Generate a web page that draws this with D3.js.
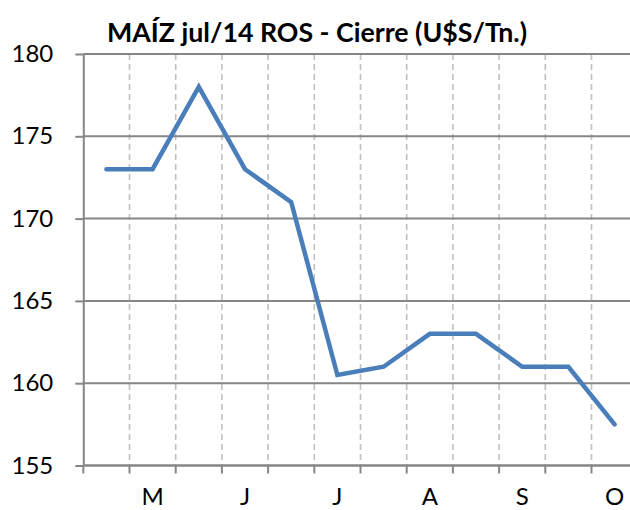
<!DOCTYPE html>
<html>
<head>
<meta charset="utf-8">
<script src="https://cdn.jsdelivr.net/npm/d3@7"></script>
<style>
  html, body { margin: 0; padding: 0; background: #ffffff; }
  svg { display: block; }
</style>
</head>
<body>
<div id="chart"></div>
<script>
// ---- data ----
const title = "MAÍZ jul/14 ROS - Cierre (U$S/Tn.)";
const categories = ["abr-2", "may-1", "may-2", "jun-1", "jun-2", "jul-1", "jul-2", "ago-1", "ago-2", "sep-1", "sep-2", "oct-1"];
const tickLabels = ["", "M", "", "J", "", "J", "", "A", "", "S", "", "O"];
const values = [173, 173, 178, 173, 171, 160.5, 161, 163, 163, 161, 161, 157.5];
const yTicks = [155, 160, 165, 170, 175, 180];

// ---- layout ----
const W = 630, H = 510;
const plotLeft = 83.3, plotTop = 54, plotBottom = 465.5;
const step = 46.2;
const plotRight = plotLeft + step * categories.length;

const svg = d3.select("#chart").append("svg")
  .attr("width", W).attr("height", H);

const x = d3.scaleBand().domain(categories).range([plotLeft, plotRight]).paddingInner(0).paddingOuter(0);
const y = d3.scaleLinear().domain([155, 180]).range([plotBottom, plotTop]);

const gridColor = "#868686";
const fontFam = "Lato, 'Open Sans', sans-serif";

// vertical dashed gridlines at category boundaries
svg.append("g").selectAll("line")
  .data(categories.slice(1))
  .join("line")
  .attr("x1", d => x(d)).attr("x2", d => x(d))
  .attr("y1", plotTop).attr("y2", plotBottom)
  .attr("stroke", "#c0c0c0")
  .attr("stroke-width", 1.6)
  .attr("stroke-dasharray", "6,4");

// horizontal gridlines
svg.append("g").selectAll("line")
  .data(yTicks)
  .join("line")
  .attr("x1", plotLeft).attr("x2", plotRight)
  .attr("y1", d => y(d)).attr("y2", d => y(d))
  .attr("stroke", gridColor)
  .attr("stroke-width", 2);

// y axis
const yAxis = svg.append("g")
  .attr("transform", `translate(${plotLeft},0)`)
  .call(d3.axisLeft(y).tickValues(yTicks).tickSize(8).tickSizeOuter(0).tickPadding(22).tickFormat(d3.format("d")));
yAxis.select(".domain").attr("stroke", gridColor).attr("stroke-width", 2);
yAxis.selectAll(".tick line").attr("stroke", gridColor).attr("stroke-width", 2);
yAxis.selectAll("text").attr("font-family", fontFam).attr("font-size", 24).attr("fill", "#000");

// x axis labels (centered in bands)
const xAxis = svg.append("g")
  .attr("transform", `translate(0,${plotBottom})`)
  .call(d3.axisBottom(x).tickSize(0).tickPadding(22).tickFormat((d, i) => tickLabels[i]));
xAxis.select(".domain").remove();
xAxis.selectAll("text").attr("font-family", fontFam).attr("font-size", 24).attr("fill", "#000");

// x boundary ticks
const boundaries = categories.map(c => x(c)).concat([x.range()[1]]);
svg.append("g").selectAll("line")
  .data(boundaries)
  .join("line")
  .attr("x1", d => d).attr("x2", d => d)
  .attr("y1", plotBottom).attr("y2", plotBottom + 8)
  .attr("stroke", gridColor).attr("stroke-width", 2);

// x axis line
svg.append("line")
  .attr("x1", plotLeft).attr("x2", plotRight)
  .attr("y1", plotBottom).attr("y2", plotBottom)
  .attr("stroke", gridColor).attr("stroke-width", 2);

// data line
const line = d3.line()
  .x((d, i) => x(categories[i]) + x.bandwidth() / 2)
  .y(d => y(d));
svg.append("path")
  .datum(values)
  .attr("d", line)
  .attr("fill", "none")
  .attr("stroke", "#4a7ebb")
  .attr("stroke-width", 4.5)
  .attr("stroke-linejoin", "miter")
  .attr("stroke-linecap", "round");

// title
svg.append("text")
  .attr("x", 317).attr("y", 42)
  .attr("text-anchor", "middle")
  .attr("font-family", fontFam)
  .attr("font-weight", "bold")
  .attr("font-size", 26)
  .attr("textLength", 420)
  .attr("lengthAdjust", "spacingAndGlyphs")
  .attr("fill", "#000")
  .text(title);
</script>
</body>
</html>
